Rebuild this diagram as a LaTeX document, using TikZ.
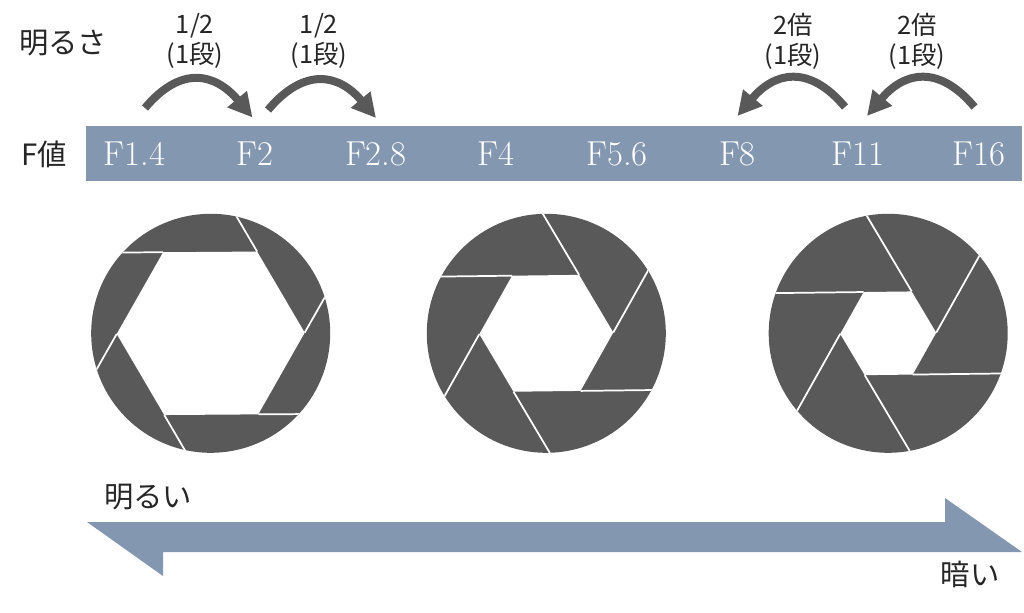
\documentclass[tikz,border=0pt]{standalone}
\usepackage{fontspec}
\usetikzlibrary{arrows.meta}
\newfontfamily\cjk{Noto Sans CJK JP}
\definecolor{barblue}{HTML}{8497B0}
\definecolor{bladegray}{HTML}{595959}
\newcommand{\shutter}[4]{
    \begin{scope}[shift={(#1,#2)}]
        \fill[bladegray] (0,0) circle (119.5);
        \fill[white] (#4:#3) -- ({#4+60}:#3) -- ({#4+120}:#3) -- ({#4+180}:#3) -- ({#4+240}:#3) -- ({#4+300}:#3) -- cycle;
        \begin{scope}
            \clip (0,0) circle (119.5);
            \foreach \a in {0,60,...,300}
                \draw[white, line width=1.3pt] ({#4+\a}:#3) -- ++({#4+\a-60}:240);
        \end{scope}
    \end{scope}
}

\begin{document}
\begin{tikzpicture}[x=0.75pt,y=-0.75pt,>={Triangle[length=18pt,width=18pt]},
    stepbend/.style={->,bladegray,line width=6pt},
    fnum/.style={anchor=base,text=white,font=\fontsize{26}{26}\selectfont},
    caption/.style={font=\cjk\fontsize{22}{26}\selectfont,text=black!85},
    ratio/.style={align=center,font=\cjk\fontsize{19}{22.5}\selectfont,text=black!85}]

    \useasboundingbox (0,0) rectangle (1024,613);

    \fill[barblue] (86,126.5) rectangle (1022,181);
    \foreach \val [count=\i] in {F1.4,F2,F2.8,F4,F5.6,F8,F11,F16}
        \node[fnum] (f\i) at ({134.5+120.6*(\i-1)},165.5) {\val};

    \node[caption] (bright) at (63,43) {明るさ};
    \node[caption] (fvalue) at (44,154) {F値};

    \node[ratio] (r1) at (195,41) {1/2\\(1段)};
    \node[ratio] (r2) at (319,41) {1/2\\(1段)};
    \node[ratio] (r3) at (793,41) {2倍\\(1段)};
    \node[ratio] (r4) at (917,41) {2倍\\(1段)};

    \coordinate (s1) at (145,108);
    \coordinate (e1) at (252.5,117.5);
    \coordinate (s2) at (268,110);
    \coordinate (e2) at (376,118);
    \coordinate (s3) at (845,107);
    \coordinate (e3) at (737.5,116);
    \coordinate (s4) at (974.5,107);
    \coordinate (e4) at (867,116);

    \path
        (s1) edge[stepbend, out=50, in=130, looseness=1.35] (e1)
        (s2) edge[stepbend, out=50, in=130, looseness=1.35] (e2)
        (s3) edge[stepbend, out=130, in=50, looseness=1.35] (e3)
        (s4) edge[stepbend, out=130, in=50, looseness=1.35] (e4)
    ;

    \shutter{210.7}{333.3}{94}{-0.4}
    \shutter{546.3}{333.3}{67}{-0.7}
    \shutter{888.2}{333.3}{48}{-0.7}

    \fill[barblue] (87,522) -- (945,522) -- (945,498) -- (1022,552) -- (163,552) -- (163,576) -- cycle;

    \node[caption] (light) at (148,497) {明るい};
    \node[caption] (dark) at (970,574) {暗い};
\end{tikzpicture}
\end{document}
